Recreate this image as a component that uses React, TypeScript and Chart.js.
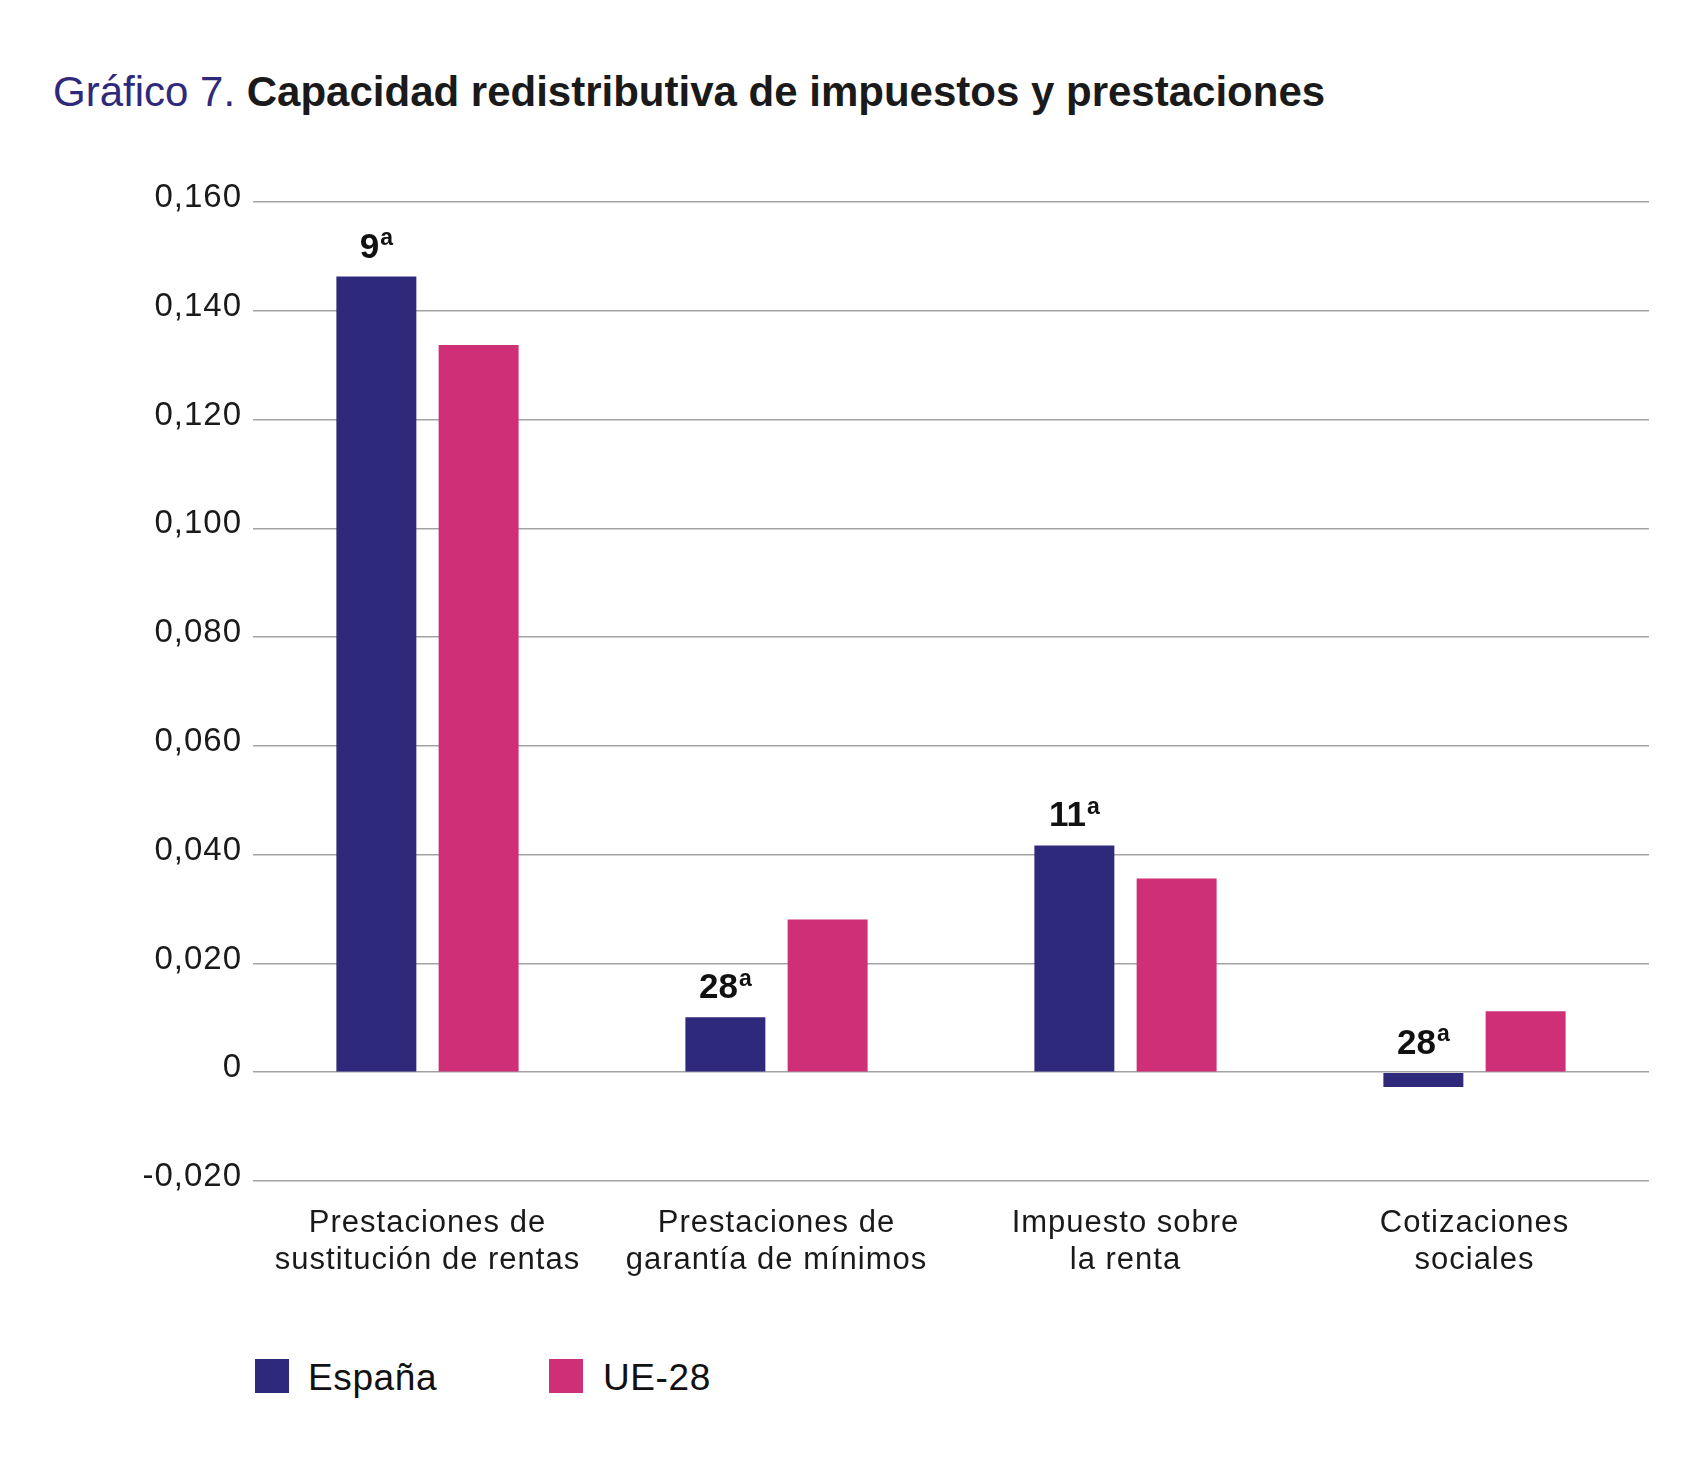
import React, { useEffect, useRef } from "react";
import { Chart, registerables } from "chart.js";

Chart.register(...registerables);

const categories = [
    ["Prestaciones de", "sustitución de rentas"],
    ["Prestaciones de", "garantía de mínimos"],
    ["Impuesto sobre", "la renta"],
    ["Cotizaciones", "sociales"],
];
const espana = [0.1463, 0.0101, 0.0417, -0.0027];
const ue28 = [0.1337, 0.0281, 0.0356, 0.0112];
const rankings = ["9", "28", "11", "28"];
const yTicks = [-0.02, 0, 0.02, 0.04, 0.06, 0.08, 0.1, 0.12, 0.14, 0.16];

const NAVY = "#2e297a";
const PINK = "#ce2f77";
const FONT = "'Liberation Sans', Arial, Helvetica, sans-serif";

const formatTick = (v: number) =>
    Math.abs(v) < 1e-9 ? "0" : v.toFixed(3).replace(".", ",");

// rank of Spain drawn above each navy bar, with a raised "a"
const rankPlugin = {
    id: "rankLabels",
    beforeDraw(chart: any) {
        // the axis texts in the original are slightly tracked out
        chart.ctx.letterSpacing = "1px";
    },
    afterDatasetsDraw(chart: any) {
        const ctx = chart.ctx;
        const meta = chart.getDatasetMeta(0);
        ctx.save();
        ctx.letterSpacing = "0px";
        ctx.fillStyle = "#111111";
        ctx.textAlign = "left";
        ctx.textBaseline = "alphabetic";
        meta.data.forEach((bar: any, i: number) => {
            const { x, y, base } = bar.getProps(["x", "y", "base"], true);
            const baseline = Math.min(y, base) - 19;
            const num = rankings[i];
            ctx.font = `bold 35px ${FONT}`;
            const wNum = ctx.measureText(num).width;
            ctx.font = `bold 23px ${FONT}`;
            const wA = ctx.measureText("a").width;
            const start = x - (wNum + 1 + wA) / 2;
            ctx.font = `bold 35px ${FONT}`;
            ctx.fillText(num, start, baseline);
            ctx.font = `bold 23px ${FONT}`;
            ctx.fillText("a", start + wNum + 1, baseline - 12.5);
        });
        ctx.restore();
    },
};

const App: React.FC = () => {
    const chartRef = useRef<HTMLCanvasElement | null>(null);
    const chartInstance = useRef<Chart | null>(null);

    useEffect(() => {
        if (chartInstance.current) {
            chartInstance.current.destroy();
        }
        if (chartRef.current) {
            const ctx = chartRef.current.getContext("2d");
            if (ctx) {
                chartInstance.current = new Chart(ctx, {
                    type: "bar",
                    data: {
                        labels: categories,
                        datasets: [
                            {
                                label: "España",
                                data: espana,
                                backgroundColor: NAVY,
                                borderWidth: 0,
                                categoryPercentage: 0.586,
                                barPercentage: 0.782,
                            },
                            {
                                label: "UE-28",
                                data: ue28,
                                backgroundColor: PINK,
                                borderWidth: 0,
                                categoryPercentage: 0.586,
                                barPercentage: 0.782,
                            },
                        ],
                    },
                    options: {
                        animation: false,
                        responsive: true,
                        maintainAspectRatio: false,
                        layout: { padding: { top: 202, right: 53, bottom: 0, left: 0 } },
                        plugins: {
                            legend: { display: false },
                            title: { display: false },
                            tooltip: { enabled: false },
                        },
                        scales: {
                            x: {
                                grid: { display: false, drawTicks: false },
                                border: { display: false },
                                ticks: {
                                    color: "#1a1a1a",
                                    padding: 24,
                                    maxRotation: 0,
                                    autoSkip: false,
                                    font: { family: FONT, size: 31, lineHeight: 1.2 },
                                },
                                afterFit: (scale: any) => {
                                    scale.height = 139;
                                },
                            },
                            y: {
                                min: -0.02,
                                max: 0.16,
                                grid: { color: "#a3a3a3", lineWidth: 1.5, drawTicks: false },
                                border: { display: false },
                                ticks: {
                                    color: "#1a1a1a",
                                    padding: 11,
                                    labelOffset: -4,
                                    font: { family: FONT, size: 33 },
                                    callback: (v: any) => formatTick(Number(v)),
                                },
                                afterBuildTicks: (scale: any) => {
                                    scale.ticks = yTicks.map((v) => ({ value: v }));
                                },
                                afterFit: (scale: any) => {
                                    scale.width = 253;
                                },
                            },
                        },
                    },
                    plugins: [rankPlugin],
                });
            }
        }
        return () => {
            if (chartInstance.current) {
                chartInstance.current.destroy();
                chartInstance.current = null;
            }
        };
    }, []);

    const legendText: React.CSSProperties = {
        position: "absolute",
        top: 1359,
        fontFamily: FONT,
        fontSize: 37,
        lineHeight: "37px",
        letterSpacing: "0.6px",
        color: "#111111",
        whiteSpace: "nowrap",
    };
    const square: React.CSSProperties = {
        position: "absolute",
        top: 1359,
        width: 34,
        height: 34,
    };

    return (
        <div
            style={{
                position: "absolute",
                left: 0,
                top: 0,
                width: 1702,
                height: 1462,
                background: "#ffffff",
                overflow: "hidden",
            }}
        >
            <div
                style={{
                    position: "absolute",
                    left: 53,
                    top: 71,
                    fontFamily: FONT,
                    fontSize: 42,
                    lineHeight: "42px",
                    whiteSpace: "nowrap",
                }}
            >
                <span style={{ color: NAVY }}>Gráfico 7.</span>{" "}
                <span style={{ color: "#1a1a1a", fontWeight: "bold" }}>
                    Capacidad redistributiva de impuestos y prestaciones
                </span>
            </div>
            <div style={{ position: "absolute", left: 0, top: 0, width: 1702, height: 1320 }}>
                <canvas ref={chartRef}></canvas>
            </div>
            <div style={{ ...square, left: 255, background: NAVY }} />
            <div style={{ ...legendText, left: 308 }}>España</div>
            <div style={{ ...square, left: 549, background: PINK }} />
            <div style={{ ...legendText, left: 603 }}>UE-28</div>
        </div>
    );
};

export default App;
